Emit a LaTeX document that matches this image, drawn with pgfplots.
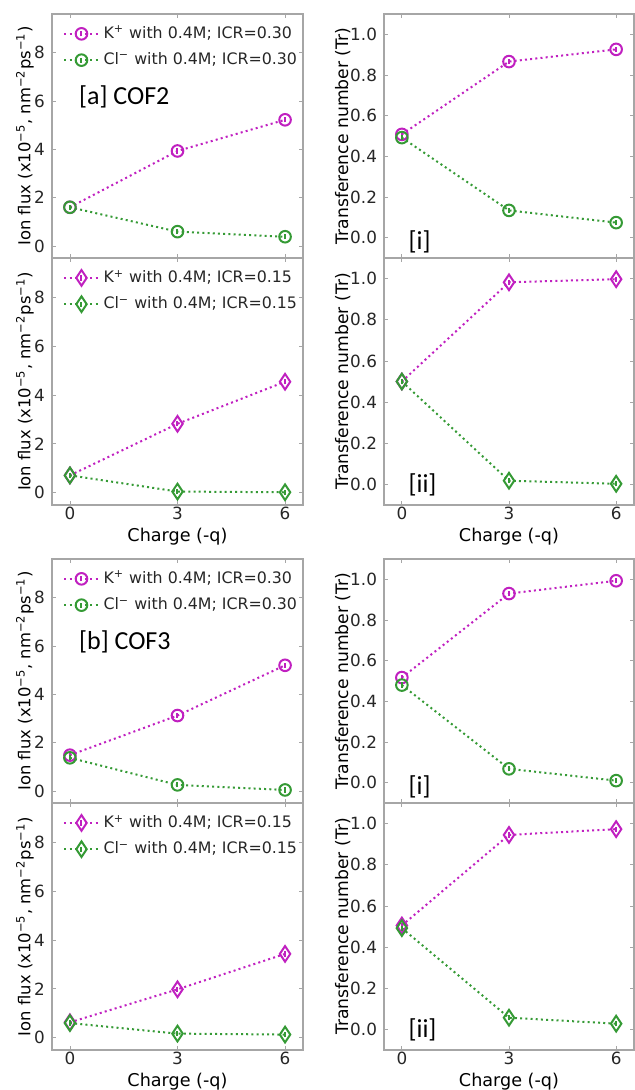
\documentclass[border=0pt]{standalone}
\usepackage{fontspec}
\setmainfont{DejaVu Sans}
\newfontfamily\calfont{Carlito}
\usepackage{pgfplots}
\pgfplotsset{compat=1.18}

\definecolor{kcol}{HTML}{C020C0}
\definecolor{clcol}{HTML}{359A35}

% open circle with a short error bar inside
\pgfdeclareplotmark{ocbar}{%
  \pgfpathcircle{\pgfpointorigin}{\pgfplotmarksize}\pgfusepathqstroke
  \pgfpathmoveto{\pgfqpoint{0pt}{-0.45\pgfplotmarksize}}%
  \pgfpathlineto{\pgfqpoint{0pt}{0.45\pgfplotmarksize}}\pgfusepathqstroke}
% thin diamond with a short error bar inside
\pgfdeclareplotmark{tdbar}{%
  \pgfpathmoveto{\pgfqpoint{0pt}{1.35\pgfplotmarksize}}%
  \pgfpathlineto{\pgfqpoint{0.9\pgfplotmarksize}{0pt}}%
  \pgfpathlineto{\pgfqpoint{0pt}{-1.35\pgfplotmarksize}}%
  \pgfpathlineto{\pgfqpoint{-0.9\pgfplotmarksize}{0pt}}%
  \pgfpathclose\pgfusepathqstroke
  \pgfpathmoveto{\pgfqpoint{0pt}{-0.45\pgfplotmarksize}}%
  \pgfpathlineto{\pgfqpoint{0pt}{0.45\pgfplotmarksize}}\pgfusepathqstroke}

\pgfplotsset{
  base/.style={scale only axis, anchor=north west,
    xmin=-0.5, xmax=6.5, xtick={0,3,6},
    tick align=inside, major tick length=2pt,
    axis line style={gray!70, line width=0.6pt},
    every tick/.style={gray!70},
    tick label style={font=\fontsize{8.4}{10}\selectfont, text=black!85},
    label style={text=black!85},
    /pgf/number format/assume math mode=true,
    xticklabel style={yshift=0pt, inner sep=1pt},
    every axis x label/.style={at={(axis description cs:0.5,-0.128)}, anchor=center,
      inner sep=0pt, font=\fontsize{8.8}{10}\selectfont},
    legend style={draw=none, fill=none, at={(axis description cs:0.02,0.985)},
      anchor=north west, font=\fontsize{7.9}{9.5}\selectfont, row sep=1.5pt,
      text=black!85},
    legend cell align=left,
  },
  flux/.style={base, width=125.5pt, ymin=-0.5, ymax=9.6, ytick={0,2,4,6,8},
    ylabel={Ion flux (x10\textsuperscript{−5}, nm\textsuperscript{−2}ps\textsuperscript{−1})},
    every axis y label/.style={at={(axis description cs:-0.108,0.5)}, rotate=90, anchor=center,
      font=\fontsize{8.2}{10}\selectfont}},
  tr/.style={base, width=125pt, ymin=-0.1, ymax=1.1, ytick={0,0.2,0.4,0.6,0.8,1.0},
    yticklabel style={/pgf/number format/.cd, fixed, fixed zerofill, precision=1},
    ylabel={Transference number (Tr)},
    every axis y label/.style={at={(axis description cs:-0.165,0.5)}, rotate=90, anchor=center,
      font=\fontsize{8.6}{10}\selectfont}},
  kline/.style={kcol, line width=1pt, dash pattern=on 1pt off 1.6pt, mark size=2.9pt,
    mark options={solid, line width=1pt}},
  clline/.style={clcol, line width=1pt, dash pattern=on 1pt off 1.6pt, mark size=2.9pt,
    mark options={solid, line width=1pt}},
}

\begin{document}
\begin{tikzpicture}
\path[use as bounding box] (0,0) rectangle (317.5pt,-545pt);

% ---------- [a] COF2 ----------
\begin{axis}[flux, at={(26pt,-7pt)}, height=122pt, xticklabels={}]
\addplot[kline, mark=ocbar] coordinates {(0,1.60)(3,3.93)(6,5.22)};
\addplot[clline, mark=ocbar] coordinates {(0,1.60)(3,0.59)(6,0.38)};
\legend{K\textsuperscript{+}\ with 0.4M; ICR=0.30, Cl\textsuperscript{−}\ with 0.4M; ICR=0.30}
\node[anchor=west, font=\calfont\fontsize{13}{15}\selectfont] at (axis description cs:0.08,0.66) {[a] COF2};
\end{axis}

\begin{axis}[flux, at={(26pt,-129pt)}, height=123.5pt, xlabel={Charge (-q)}]
\addplot[kline, mark=tdbar] coordinates {(0,0.71)(3,2.82)(6,4.54)};
\addplot[clline, mark=tdbar] coordinates {(0,0.71)(3,0.05)(6,0.02)};
\legend{K\textsuperscript{+}\ with 0.4M; ICR=0.15, Cl\textsuperscript{−}\ with 0.4M; ICR=0.15}
\end{axis}

\begin{axis}[tr, at={(192pt,-7pt)}, height=122pt, xticklabels={}]
\addplot[kline, mark=ocbar] coordinates {(0,0.508)(3,0.866)(6,0.926)};
\addplot[clline, mark=ocbar] coordinates {(0,0.492)(3,0.134)(6,0.074)};
\node[anchor=west, font=\calfont\fontsize{13}{15}\selectfont] at (axis description cs:0.07,0.066) {[i]};
\end{axis}

\begin{axis}[tr, at={(192pt,-129pt)}, height=123.5pt, xlabel={Charge (-q)}]
\addplot[kline, mark=tdbar] coordinates {(0,0.500)(3,0.982)(6,0.997)};
\addplot[clline, mark=tdbar] coordinates {(0,0.500)(3,0.018)(6,0.003)};
\node[anchor=west, font=\calfont\fontsize{13}{15}\selectfont] at (axis description cs:0.07,0.081) {[ii]};
\end{axis}

% ---------- [b] COF3 ----------
\begin{axis}[flux, at={(26pt,-279.5pt)}, height=122pt, xticklabels={}]
\addplot[kline, mark=ocbar] coordinates {(0,1.48)(3,3.12)(6,5.20)};
\addplot[clline, mark=ocbar] coordinates {(0,1.37)(3,0.25)(6,0.04)};
\legend{K\textsuperscript{+}\ with 0.4M; ICR=0.30, Cl\textsuperscript{−}\ with 0.4M; ICR=0.30}
\node[anchor=west, font=\calfont\fontsize{13}{15}\selectfont] at (axis description cs:0.08,0.66) {[b] COF3};
\end{axis}

\begin{axis}[flux, at={(26pt,-401.5pt)}, height=123.5pt, xlabel={Charge (-q)}]
\addplot[kline, mark=tdbar] coordinates {(0,0.63)(3,1.98)(6,3.43)};
\addplot[clline, mark=tdbar] coordinates {(0,0.60)(3,0.17)(6,0.13)};
\legend{K\textsuperscript{+}\ with 0.4M; ICR=0.15, Cl\textsuperscript{−}\ with 0.4M; ICR=0.15}
\end{axis}

\begin{axis}[tr, at={(192pt,-279.5pt)}, height=122pt, xticklabels={}]
\addplot[kline, mark=ocbar] coordinates {(0,0.517)(3,0.930)(6,0.993)};
\addplot[clline, mark=ocbar] coordinates {(0,0.480)(3,0.068)(6,0.010)};
\node[anchor=west, font=\calfont\fontsize{13}{15}\selectfont] at (axis description cs:0.07,0.066) {[i]};
\end{axis}

\begin{axis}[tr, at={(192pt,-401.5pt)}, height=123.5pt, xlabel={Charge (-q)}]
\addplot[kline, mark=tdbar] coordinates {(0,0.505)(3,0.945)(6,0.973)};
\addplot[clline, mark=tdbar] coordinates {(0,0.492)(3,0.057)(6,0.028)};
\node[anchor=west, font=\calfont\fontsize{13}{15}\selectfont] at (axis description cs:0.07,0.081) {[ii]};
\end{axis}
\end{tikzpicture}
\end{document}
